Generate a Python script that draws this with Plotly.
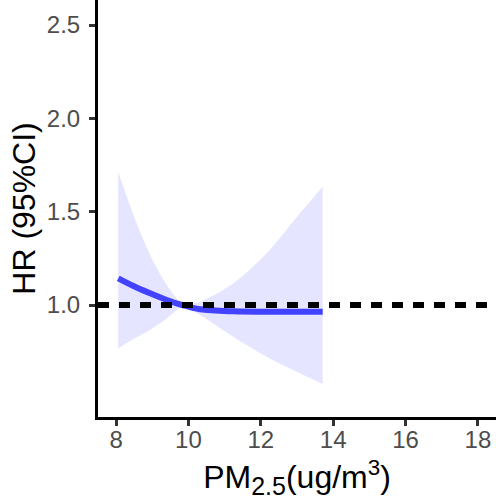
import plotly.graph_objects as go

# Data
pm25 = [8.06, 8.48, 8.94, 9.40, 9.82, 10.32, 11.24, 12.16, 13.08, 13.71]
hr = [1.143, 1.102, 1.063, 1.027, 1.000, 0.977, 0.966, 0.964, 0.964, 0.964]
ci_lower = [0.768, 0.818, 0.868, 0.928, 1.000, 0.946, 0.830, 0.723, 0.634, 0.577]
ci_upper = [1.714, 1.482, 1.268, 1.107, 1.000, 1.018, 1.116, 1.277, 1.491, 1.634]
ref_index = 4  # reference point where CI collapses
x_ticks = [8, 10, 12, 14, 16, 18]
y_ticks = [1.0, 1.5, 2.0, 2.5]
y_tick_labels = ["1.0", "1.5", "2.0", "2.5"]

FONT = "Liberation Sans, Arial, sans-serif"
FILL = "rgba(229,229,255,1)"
LINE = "#4343FF"

fig = go.Figure()

segments = [slice(0, ref_index + 1), slice(ref_index, len(pm25))]
for seg in segments:
    fig.add_trace(go.Scatter(
        x=pm25[seg], y=ci_lower[seg], mode="lines",
        line=dict(width=0, shape="spline", color=FILL),
        hoverinfo="skip", showlegend=False))
    fig.add_trace(go.Scatter(
        x=pm25[seg], y=ci_upper[seg], mode="lines",
        line=dict(width=0, shape="spline", color=FILL),
        fill="tonexty", fillcolor=FILL,
        hoverinfo="skip", showlegend=False))

fig.add_trace(go.Scatter(
    x=pm25, y=hr, mode="lines",
    line=dict(width=6, shape="spline", color=LINE),
    showlegend=False))

fig.add_shape(type="line", xref="paper", yref="y", x0=0, x1=1, y0=1, y1=1,
              line=dict(color="black", width=6, dash="11px,10px"), layer="above")

axis_common = dict(
    showline=True, linecolor="black", linewidth=3,
    ticks="outside", ticklen=6, tickwidth=3, tickcolor="#333333",
    tickfont=dict(family=FONT, size=24, color="#4D4D4D"),
    showgrid=False, zeroline=False,
)

fig.update_layout(
    width=496, height=500,
    margin=dict(l=98, r=0, t=0, b=83),
    plot_bgcolor="white", paper_bgcolor="white",
    font=dict(family=FONT),
    xaxis=dict(range=[7.5, 18.5], tickvals=x_ticks, ticklabelstandoff=-7,
               title=dict(text="PM<sub><span style='font-size:25px'>2.5</span></sub>(ug/m<sup>3</sup>)",
                          font=dict(family=FONT, size=32, color="black"), standoff=18),
               **axis_common),
    yaxis=dict(range=[0.4, 2.634], tickvals=y_ticks, ticktext=y_tick_labels,
               ticklabelstandoff=4,
               title=dict(text="HR (95%CI)",
                          font=dict(family=FONT, size=32, color="black"), standoff=2),
               **axis_common),
)

fig.write_html("out.html", config={"displayModeBar": False},
               post_script="document.body.style.margin='0';")
